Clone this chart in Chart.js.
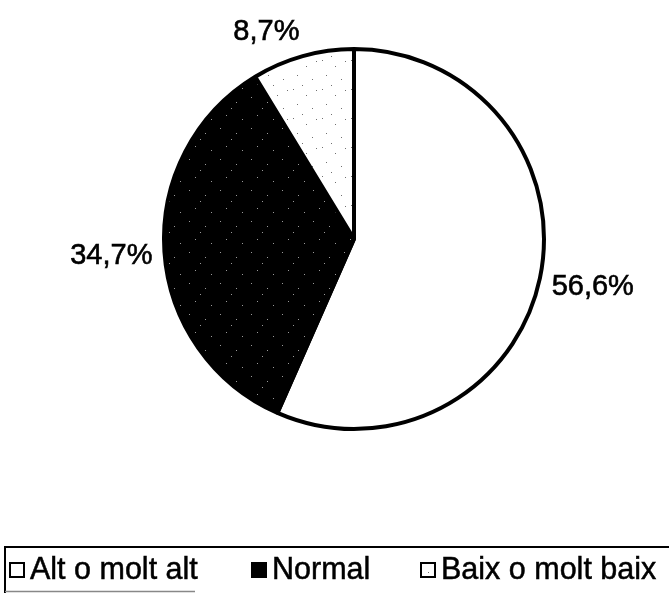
<!DOCTYPE html>
<html>
<head>
<meta charset="utf-8">
<script src="https://cdn.jsdelivr.net/npm/chart.js@4/dist/chart.umd.min.js"></script>
<style>
  html, body { margin: 0; padding: 0; background: #fff; }
  #wrap { width: 669px; height: 593px; position: relative; }
</style>
</head>
<body>
<div id="wrap"><canvas id="c" width="669" height="593"></canvas></div>
<script>
// ---- data ----
const categories = ['Alt o molt alt', 'Normal', 'Baix o molt baix'];
const percentValues = [56.6, 34.7, 8.7];
const percentLabels = ['56,6%', '34,7%', '8,7%'];

// ---- fill patterns (fixed speck positions, purely decorative) ----
function makePattern(bg, fg, dots, size) {
  const t = document.createElement('canvas');
  t.width = size; t.height = size;
  const g = t.getContext('2d');
  g.fillStyle = bg; g.fillRect(0, 0, size, size);
  g.fillStyle = fg;
  dots.forEach(d => g.fillRect(d[0], d[1], 1, 1));
  return g.createPattern(t, 'repeat');
}
const darkFill = makePattern('#000000', '#9a9a9a', [[3,4],[19,9],[9,22],[25,26],[14,15]], 31);
const lightFill = makePattern('#ffffff', '#707070', [[3,2],[16,8],[7,17],[22,21],[12,27],[26,3]], 29);
const fills = ['#ffffff', darkFill, lightFill];

// ---- plugins ----
const outsideLabels = {
  id: 'outsideLabels',
  afterDatasetsDraw(chart) {
    const ctx = chart.ctx;
    const meta = chart.getDatasetMeta(0);
    ctx.save();
    ctx.font = '29px "Liberation Sans", Arial, sans-serif';
    ctx.fillStyle = '#000';
    ctx.strokeStyle = '#000';
    ctx.lineWidth = 0.6;
    ctx.textBaseline = 'middle';
    meta.data.forEach((arc, i) => {
      const p = arc.getProps(['x', 'y', 'startAngle', 'endAngle', 'outerRadius'], true);
      const mid = (p.startAngle + p.endAngle) / 2;
      const c = Math.cos(mid), s = Math.sin(mid);
      const r = p.outerRadius + 12;
      const ax = p.x + c * r;
      const ay = p.y + s * r;
      const txt = percentLabels[i];
      ctx.textAlign = c >= 0 ? 'left' : 'right';
      const y = ay + s * 16 + 3;
      ctx.fillText(txt, ax, y);
      ctx.strokeText(txt, ax, y);
    });
    ctx.restore();
  }
};

const legendTextStarts = [30, 272, 441];

const boxLegend = {
  id: 'boxLegend',
  afterDraw(chart) {
    const ctx = chart.ctx;
    ctx.save();
    // frame
    ctx.strokeStyle = '#000';
    ctx.lineWidth = 2;
    ctx.beginPath();
    ctx.moveTo(4, 547); ctx.lineTo(669, 547);
    ctx.moveTo(5, 546); ctx.lineTo(5, 593);
    ctx.stroke();
    ctx.strokeStyle = '#888';
    ctx.lineWidth = 1.5;
    ctx.beginPath();
    ctx.moveTo(5, 591.5); ctx.lineTo(195, 591.5);
    ctx.stroke();

    ctx.font = '30.5px "Liberation Sans", Arial, sans-serif';
    ctx.textBaseline = 'middle';
    ctx.textAlign = 'left';
    const box = 14, boxGap = 6;
    const cy = 570;
    const ds = chart.data.datasets[0];
    chart.data.labels.forEach((l, i) => {
      const tx = legendTextStarts[i];
      const x = tx - boxGap - box;
      ctx.fillStyle = i === 1 ? '#000' : ds.backgroundColor[i];
      ctx.fillRect(x, cy - box / 2, box, box);
      ctx.strokeStyle = '#000';
      ctx.lineWidth = 2;
      ctx.strokeRect(x, cy - box / 2, box, box);
      ctx.fillStyle = '#000';
      ctx.lineWidth = 0.5;
      ctx.fillText(l, tx, cy + 1);
      ctx.strokeText(l, tx, cy + 1);
    });
    ctx.restore();
  }
};

new Chart(document.getElementById('c'), {
  type: 'pie',
  data: {
    labels: categories,
    datasets: [{
      data: percentValues,
      backgroundColor: fills,
      borderColor: '#000',
      borderWidth: 4,
      borderAlign: 'center'
    }]
  },
  options: {
    responsive: false,
    animation: false,
    rotation: 0,
    layout: { padding: { left: 161, right: 122, top: 47, bottom: 162 } },
    plugins: {
      legend: { display: false },
      tooltip: { enabled: false }
    }
  },
  plugins: [outsideLabels, boxLegend]
});
</script>
</body>
</html>
